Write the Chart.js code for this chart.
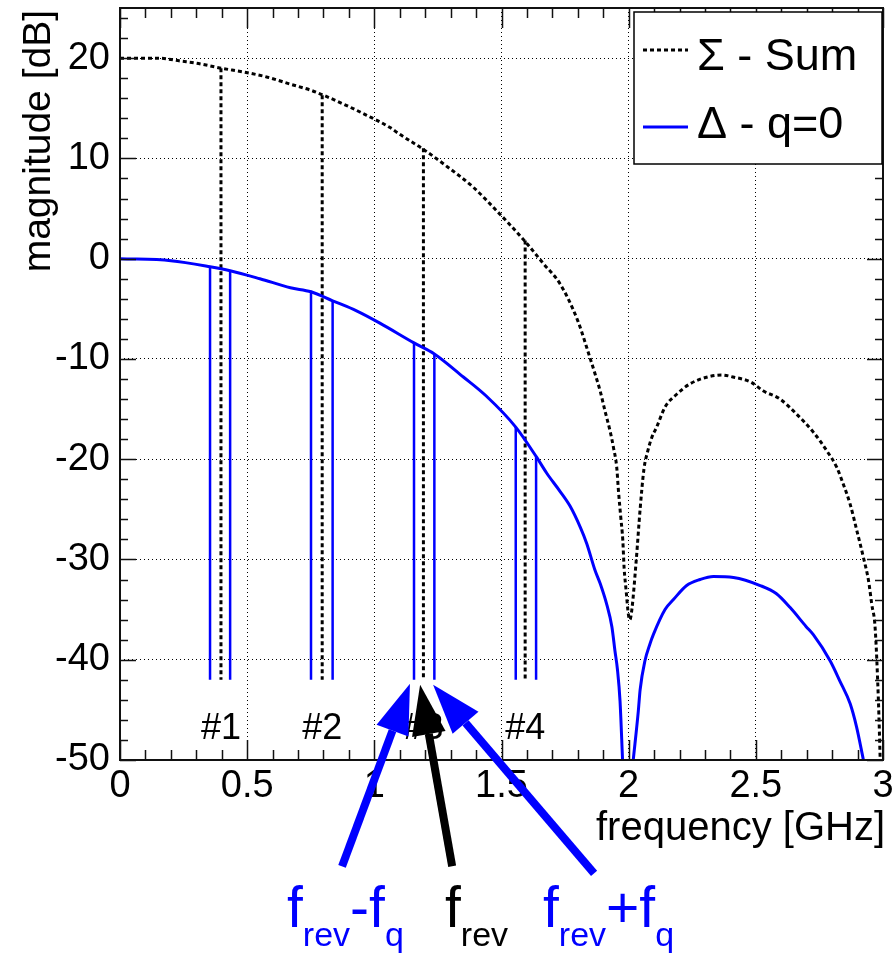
<!DOCTYPE html>
<html>
<head>
<title>Sum / Delta spectrum</title>
<script src="https://cdn.jsdelivr.net/npm/chart.js@4.4.0/dist/chart.umd.min.js"></script>
<style>
  body { margin: 0; background: #fff; }
  canvas { display: block; }
</style>
</head>
<body>
<canvas id="spectrum" width="892" height="956"></canvas>
<script>
// Sigma (sum) response [GHz] / [dB]
var sumFreq = [0, 0.15, 0.24, 0.30, 0.397, 0.49, 0.58, 0.67, 0.75, 0.80, 0.88, 0.97, 1.06, 1.10,
    1.193, 1.28, 1.39, 1.48, 1.59, 1.665, 1.73, 1.80, 1.848, 1.868, 1.888, 1.907, 1.927, 1.940,
    1.953, 1.960, 1.969, 1.977, 1.982, 1.990, 1.999, 2.005, 2.013, 2.03, 2.045, 2.06, 2.075,
    2.09, 2.11, 2.143, 2.19, 2.24, 2.31, 2.366, 2.41, 2.48, 2.53, 2.595, 2.66, 2.726, 2.78,
    2.818, 2.844, 2.871, 2.897, 2.923, 2.943, 2.956, 2.969, 2.982, 2.989];
var sumMag = [20, 20, 19.7, 19.5, 19.0, 18.6, 18.1, 17.4, 16.8, 16.3, 15.4, 14.3, 13.1, 12.4,
    10.9, 9.3, 7.1, 4.8, 1.8, -0.5, -2.5, -6.2, -9.9, -11.5, -13.2, -15.2, -17.2, -18.8,
    -20.8, -23.2, -25.8, -28.1, -30.8, -33.1, -35.5, -36.0, -34.9, -30.0, -25.0, -21.0, -19.2,
    -17.9, -16.8, -14.8, -13.5, -12.5, -11.8, -11.6, -11.8, -12.3, -13.2, -14.0, -15.5, -17.3, -19.2,
    -20.8, -22.5, -24.5, -27.1, -29.8, -32.1, -34.5, -36.8, -44.1, -50];

// Delta response, q = 0 (null = dips below the frame)
var deltaFreq = [0, 0.20, 0.354, 0.433, 0.55, 0.67, 0.751, 0.836, 0.93, 1.02, 1.156, 1.236, 1.35,
    1.44, 1.556, 1.638, 1.678, 1.73, 1.77, 1.81, 1.835, 1.868, 1.888, 1.914, 1.934, 1.946, 1.956,
    1.966, 1.976, 1.997, 2.018, 2.038, 2.045, 2.064, 2.084, 2.097, 2.143, 2.176, 2.228, 2.281,
    2.333, 2.412, 2.517, 2.58, 2.635, 2.698, 2.726, 2.792, 2.830, 2.871, 2.896, 2.923];
var deltaMag = [0, -0.2, -0.8, -1.2, -2.0, -2.9, -3.3, -4.2, -5.2, -6.4, -8.4, -9.5, -11.8,
    -13.7, -16.8, -19.8, -21.4, -23.2, -24.7, -26.8, -28.4, -31.1, -32.4, -34.5, -36.7, -39.1, -41.0,
    -44.1, -50, null, -50, -45.1, -43.0, -40.1, -38.4, -37.5, -35.0, -34.0, -32.6, -32.0,
    -31.7, -31.8, -32.6, -33.4, -34.8, -36.7, -37.5, -40.1, -42.1, -44.4, -46.7, -50];

// revolution harmonics #1..#4 and their sidebands
var harmLabels = ['#1', '#2', '#3', '#4'];
var revFreq = [0.397, 0.795, 1.193, 1.593];
var revTop = [19.0, 16.3, 11.0, 1.8];
var sideFreq = [0.354, 0.433, 0.751, 0.836, 1.156, 1.236, 1.556, 1.636];
var sideTop = [-0.8, -1.2, -3.2, -4.2, -8.4, -9.5, -16.8, -19.8];
var lineBottom = -42;
var harmLabelMag = -47.9;

// arrows pointing at harmonic #3 (blue, blue, black)
var arrowTailFreq = [0.873, 1.864, 1.306];
var arrowTailMag = [-60.6, -61.3, -60.6];
var arrowTipFreq = [1.140, 1.231, 1.180];
var arrowTipMag = [-42.4, -42.5, -42.5];
var arrowColors = ['#0000ff', '#0000ff', '#000000'];

var FONT = "'Liberation Sans', Arial, Helvetica, sans-serif";
var BLUE = '#0000ff';

function pairs(xs, ys) {
    return xs.map(function (x, i) { return { x: x, y: ys[i] }; });
}

function sticks(xs, tops) {
    var out = [];
    xs.forEach(function (x, i) {
        out.push({ x: x, y: tops[i] }, { x: x, y: lineBottom }, { x: x, y: null });
    });
    return out;
}

// ROOT style frame with inward ticks on all four sides
var framePlugin = {
    id: 'frame',
    afterDatasetsDraw: function (chart) {
        var ctx = chart.ctx, a = chart.chartArea;
        var xs = chart.scales.x, ys = chart.scales.y;
        ctx.save();
        ctx.strokeStyle = '#111';
        ctx.lineWidth = 1.5;
        ctx.beginPath();
        for (var i = 0; i <= 30; i++) {
            var px = Math.round(xs.getPixelForValue(i / 10)) + 0.5;
            var len = (i % 5 === 0) ? 20 : 10;
            ctx.moveTo(px, a.bottom); ctx.lineTo(px, a.bottom - len);
            ctx.moveTo(px, a.top); ctx.lineTo(px, a.top + len);
        }
        for (var v = -50; v <= 24; v += 2) {
            var py = Math.round(ys.getPixelForValue(v)) + 0.5;
            var l2 = (v % 10 === 0) ? 16 : 8;
            ctx.moveTo(a.left, py); ctx.lineTo(a.left + l2, py);
            ctx.moveTo(a.right, py); ctx.lineTo(a.right - l2, py);
        }
        ctx.stroke();
        ctx.lineWidth = 2;
        ctx.strokeRect(a.left, a.top, a.right - a.left, a.bottom - a.top);
        ctx.restore();
    }
};

// harmonic numbers, legend box, axis titles
var annotPlugin = {
    id: 'annot',
    afterDatasetsDraw: function (chart) {
        var ctx = chart.ctx, a = chart.chartArea;
        var xs = chart.scales.x, ys = chart.scales.y;
        ctx.save();
        ctx.fillStyle = '#000';
        ctx.font = '36px ' + FONT;
        ctx.textAlign = 'center';
        ctx.textBaseline = 'alphabetic';
        harmLabels.forEach(function (t, i) {
            ctx.fillText(t, xs.getPixelForValue(revFreq[i]), ys.getPixelForValue(harmLabelMag));
        });

        // legend
        var bx = a.right - 249, by = a.top + 4, bw = 248, bh = 152;
        ctx.fillStyle = '#fff';
        ctx.fillRect(bx, by, bw, bh);
        ctx.strokeStyle = '#000';
        ctx.lineWidth = 1.5;
        ctx.strokeRect(bx, by, bw, bh);
        var rows = [{ ds: chart.data.datasets[0], y: by + 38, base: by + 58 },
                    { ds: chart.data.datasets[1], y: by + 115, base: by + 126 }];
        ctx.font = '45px ' + FONT;
        ctx.textAlign = 'left';
        rows.forEach(function (r) {
            ctx.strokeStyle = r.ds.borderColor;
            ctx.lineWidth = r.ds.borderWidth;
            ctx.setLineDash(r.ds.borderDash || []);
            ctx.beginPath();
            ctx.moveTo(bx + 9, r.y); ctx.lineTo(bx + 54, r.y);
            ctx.stroke();
            ctx.setLineDash([]);
            ctx.fillStyle = '#000';
            ctx.fillText(r.ds.label, bx + 63, r.base);
        });

        // axis titles, right aligned like ROOT
        ctx.fillStyle = '#000';
        ctx.font = '40px ' + FONT;
        ctx.textAlign = 'right';
        ctx.fillText('frequency [GHz]', a.right + 2, a.bottom + 80);
        ctx.translate(50, a.top + 2);
        ctx.rotate(-Math.PI / 2);
        ctx.font = '39px ' + FONT;
        ctx.fillText('magnitude [dB]', 0, 0);
        ctx.restore();
    }
};

// arrows and f_rev labels under the frame
var arrowPlugin = {
    id: 'arrows',
    afterDraw: function (chart) {
        var ctx = chart.ctx;
        var xs = chart.scales.x, ys = chart.scales.y;
        ctx.save();
        for (var i = 0; i < arrowTipFreq.length; i++) {
            var x1 = xs.getPixelForValue(arrowTailFreq[i]), y1 = ys.getPixelForValue(arrowTailMag[i]);
            var x2 = xs.getPixelForValue(arrowTipFreq[i]), y2 = ys.getPixelForValue(arrowTipMag[i]);
            var ang = Math.atan2(y2 - y1, x2 - x1);
            var hl = 50, hw = 17;
            var hx = x2 - hl * Math.cos(ang), hy = y2 - hl * Math.sin(ang);
            ctx.strokeStyle = arrowColors[i];
            ctx.fillStyle = arrowColors[i];
            ctx.lineWidth = 8;
            ctx.beginPath();
            ctx.moveTo(x1, y1); ctx.lineTo(hx, hy);
            ctx.stroke();
            ctx.beginPath();
            ctx.moveTo(x2, y2);
            ctx.lineTo(hx + hw * Math.sin(ang), hy - hw * Math.cos(ang));
            ctx.lineTo(hx - hw * Math.sin(ang), hy + hw * Math.cos(ang));
            ctx.closePath();
            ctx.fill();
        }

        var labels = [
            { x: 287, color: BLUE, parts: [['f', 0], ['rev', 1], ['-', 0], ['f', 0], ['q', 1]] },
            { x: 445, color: '#000', parts: [['f', 0], ['rev', 1]] },
            { x: 543, color: BLUE, parts: [['f', 0], ['rev', 1], ['+', 0], ['f', 0], ['q', 1]] }
        ];
        ctx.textAlign = 'left';
        ctx.textBaseline = 'alphabetic';
        labels.forEach(function (lb) {
            var x = lb.x;
            ctx.fillStyle = lb.color;
            lb.parts.forEach(function (p) {
                ctx.font = (p[1] ? '34px ' : '57px ') + FONT;
                ctx.fillText(p[0], x, p[1] ? 946 : 927);
                x += ctx.measureText(p[0]).width;
            });
        });
        ctx.restore();
    }
};

new Chart(document.getElementById('spectrum').getContext('2d'), {
    type: 'scatter',
    data: {
        datasets: [{
            label: '\u03A3 - Sum',
            data: pairs(sumFreq, sumMag),
            showLine: true,
            borderColor: '#000',
            borderWidth: 3,
            borderDash: [4, 3],
            cubicInterpolationMode: 'monotone',
            pointRadius: 0,
            spanGaps: false
        }, {
            label: '\u0394 - q=0',
            data: pairs(deltaFreq, deltaMag),
            showLine: true,
            borderColor: BLUE,
            borderWidth: 3,
            cubicInterpolationMode: 'monotone',
            pointRadius: 0,
            spanGaps: false
        }, {
            label: 'f_rev',
            data: sticks(revFreq, revTop),
            showLine: true,
            borderColor: '#000',
            borderWidth: 3,
            borderDash: [4, 3],
            pointRadius: 0,
            spanGaps: false
        }, {
            label: 'f_rev +/- f_q',
            data: sticks(sideFreq, sideTop),
            showLine: true,
            borderColor: BLUE,
            borderWidth: 2.5,
            pointRadius: 0,
            spanGaps: false
        }]
    },
    options: {
        responsive: false,
        animation: false,
        layout: { padding: { top: 8, right: 9, left: 0, bottom: 0 } },
        plugins: { legend: { display: false }, tooltip: { enabled: false } },
        scales: {
            x: {
                type: 'linear', min: 0, max: 3,
                ticks: { stepSize: 0.5, color: '#000', padding: 4, maxRotation: 0, autoSkip: false,
                         font: { family: FONT, size: 38 },
                         callback: function (v) { return String(Math.round(v * 10) / 10); } },
                grid: { color: '#000', lineWidth: 1, drawTicks: false },
                border: { display: false, dash: [1, 3] },
                afterFit: function (s) { s.height = 196; s.paddingLeft = 0; s.paddingRight = 0; }
            },
            y: {
                type: 'linear', min: -50, max: 25,
                ticks: { stepSize: 10, includeBounds: false, color: '#000', padding: 10,
                         font: { family: FONT, size: 38 } },
                grid: { color: '#000', lineWidth: 1, drawTicks: false },
                border: { display: false, dash: [1, 3] },
                afterFit: function (s) { s.width = 120; s.paddingTop = 0; s.paddingBottom = 0; }
            }
        }
    },
    plugins: [framePlugin, annotPlugin, arrowPlugin]
});
</script>
</body>
</html>
